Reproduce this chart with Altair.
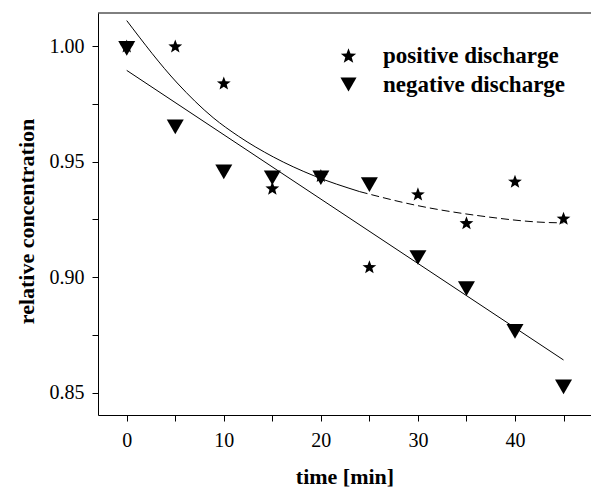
import altair as alt
import pandas as pd

# Sampling times [min]
time = [0, 5, 10, 15, 20, 25, 30, 35, 40, 45]

# Relative concentration for each discharge polarity
positive = [1.000, 1.000, 0.984, 0.9385, 0.944, 0.9045, 0.936, 0.9235, 0.9415, 0.9255]
negative = [0.999, 0.965, 0.9455, 0.943, 0.943, 0.940, 0.9085, 0.895, 0.8765, 0.8525]

# Exponential-decay fit curve for the positive discharge series
fit_t = [0, 5.2, 8.9, 11.5, 15.1, 19.2, 24, 29.9, 36.4, 43.6, 45]
fit_v = [1.011, 0.984, 0.969, 0.961, 0.952, 0.944, 0.937, 0.931, 0.9265, 0.9236, 0.9235]
dash_from = 24  # the fitted curve is drawn dashed from here on

series_names = ["positive discharge", "negative discharge"]

pos_df = pd.DataFrame({"t": time, "v": positive, "series": series_names[0]})
neg_df = pd.DataFrame({"t": time, "v": negative, "series": series_names[1]})
fit_df = pd.DataFrame({"t": fit_t, "v": fit_v})

W, H = 493, 402
SERIF = "Liberation Serif"

# Five-pointed star and equilateral down-triangle as unit-box symbol paths
STAR = ("M0,-0.905L0.247,-0.245L0.951,-0.214L0.399,0.225L0.588,0.904L0,0.515"
        "L-0.588,0.904L-0.399,0.225L-0.951,-0.214L-0.247,-0.245Z")
TRI_DOWN = "M-1,-0.866L1,-0.866L0,0.866Z"

x_scale = alt.Scale(domain=[-2.96, 47.83], nice=False, zero=False)
y_scale = alt.Scale(domain=[0.84035, 1.01428], nice=False, zero=False)

x_axis = alt.Axis(
    title="time [min]",
    orient="bottom",
    values=[0, 5, 10, 15, 20, 25, 30, 35, 40, 45],
    labelExpr="datum.value % 10 === 0 ? datum.label : ''",
    format="d",
    grid=False,
    tickSize=6,
    labelPadding=9,
    titleY=68,
    titleBaseline="alphabetic",
)
y_axis = alt.Axis(
    title="relative concentration",
    orient="left",
    values=[0.85, 0.875, 0.90, 0.925, 0.95, 0.975, 1.00],
    labelExpr="(round(datum.value * 1000) % 50 === 0) ? format(datum.value, '.2f') : ''",
    grid=False,
    tickSize=6,
    labelPadding=8,
    titleAngle=-90,
    titleX=-72,
    titleY=208,
    titleAlign="center",
    titleBaseline="middle",
)

x_enc = alt.X("t:Q", scale=x_scale, axis=x_axis)
y_enc = alt.Y("v:Q", scale=y_scale, axis=y_axis)

shape_scale = alt.Scale(domain=series_names, range=[STAR, TRI_DOWN])
legend = alt.Legend(
    title=None,
    orient="none",
    legendX=239,
    legendY=31,
    padding=0,
    labelFont=SERIF,
    labelFontSize=23,
    labelFontWeight="bold",
    labelColor="black",
    labelLimit=0,
    labelOffset=23,
    rowPadding=5,
    symbolSize=260,
    symbolFillColor="black",
    symbolStrokeColor="black",
    symbolStrokeWidth=0,
)

# Measured points: stars for positive, downward triangles for negative
stars = (
    alt.Chart(pos_df)
    .mark_point(filled=True, color="black", opacity=1, size=210)
    .encode(x=x_enc, y=y_enc, shape=alt.Shape("series:N", scale=shape_scale, legend=legend))
)
triangles = (
    alt.Chart(neg_df)
    .mark_point(filled=True, color="black", opacity=1, size=289)
    .encode(x=x_enc, y=y_enc, shape=alt.Shape("series:N", scale=shape_scale, legend=legend))
)

# Linear least-squares fit for the negative discharge series
neg_fit = (
    alt.Chart(neg_df)
    .transform_regression("t", "v", method="linear", extent=[0, 45])
    .mark_line(color="black", strokeWidth=1)
    .encode(x=x_enc, y=y_enc)
)

# Decay fit for the positive discharge series: solid head, dashed tail
pos_fit_head = (
    alt.Chart(fit_df)
    .transform_filter(alt.datum.t <= dash_from)
    .mark_line(color="black", strokeWidth=1, interpolate="monotone")
    .encode(x=x_enc, y=y_enc)
)
pos_fit_tail = (
    alt.Chart(fit_df)
    .transform_filter(alt.datum.t >= dash_from)
    .mark_line(color="black", strokeWidth=1, strokeDash=[8, 4], interpolate="monotone")
    .encode(x=x_enc, y=y_enc)
)

# Top frame line along the upper edge of the plot
top_line = (
    alt.Chart(pd.DataFrame({"edge": [0]}))
    .mark_rule(color="black", strokeWidth=1)
    .encode(y=alt.value(0), x=alt.value(0), x2=alt.value(W))
)

chart = (
    alt.layer(neg_fit, pos_fit_head, pos_fit_tail, stars, triangles, top_line)
    .properties(
        width=W,
        height=H,
        autosize="none",
        padding={"left": 98, "top": 13, "right": 0, "bottom": 76},
        background="white",
    )
    .configure_view(stroke=None)
    .configure_axis(
        domainColor="black",
        domainWidth=1,
        tickColor="black",
        tickWidth=1,
        labelFont=SERIF,
        labelFontSize=20,
        labelColor="black",
        titleFont=SERIF,
        titleFontSize=22,
        titleFontWeight="bold",
        titleColor="black",
    )
)

chart.save("out.html", embed_options={"renderer": "svg", "actions": False})
